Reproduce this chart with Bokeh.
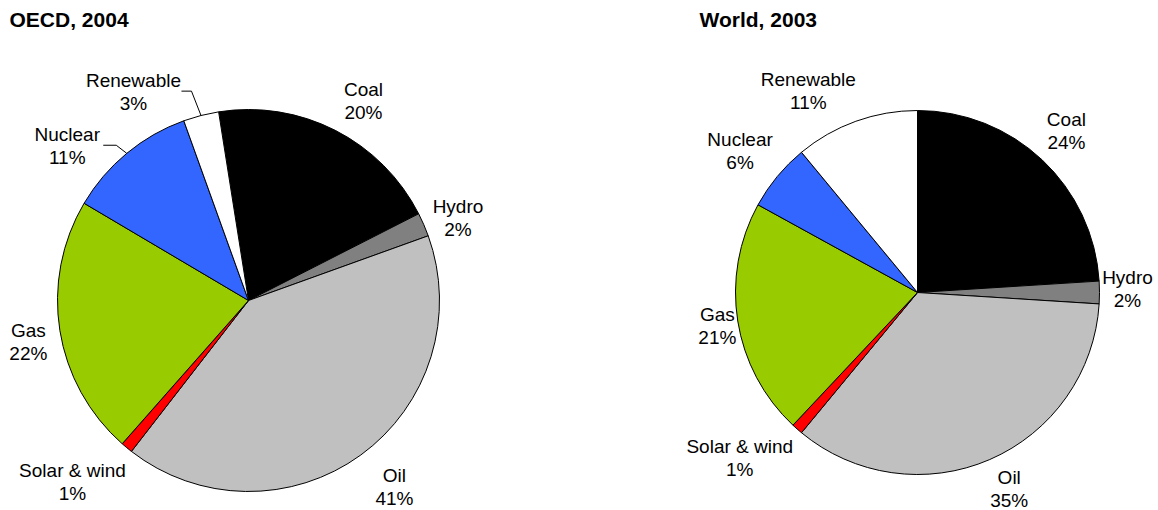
import math
from bokeh.plotting import figure
from bokeh.models import Range1d, ColumnDataSource
from bokeh.embed import file_html
from bokeh.resources import INLINE
from bokeh.core.properties import value

# ---- data ----
categories = ["Coal", "Hydro", "Oil", "Solar & wind", "Gas", "Nuclear", "Renewable"]
oecd_2004 = [20, 2, 41, 1, 22, 11, 3]
world_2003 = [24, 2, 35, 1, 21, 6, 11]
titles = ["OECD, 2004", "World, 2003"]

# ---- style ----
colors = ["#000000", "#808080", "#C0C0C0", "#FF0000", "#99CC00", "#3366FF", "#FFFFFF"]
FONT = "Liberation Sans"

W, H = 1158, 510
p = figure(width=W, height=H, x_range=Range1d(0, W), y_range=Range1d(0, H),
           output_backend="svg", toolbar_location=None,
           x_axis_type=None, y_axis_type=None, min_border=0)
p.outline_line_color = None
p.grid.visible = False


def img(x, y):
    # page-pixel coordinates -> data coordinates (1 unit == 1 px, y up)
    return x, H - y


layouts = [
    dict(center=img(248, 300), r=191, start=-9, title_pos=img(9, 19),
         dr=[39, 34, 46, 62, 33, 47, 47], dth=[3, 2, -2, 4.5, -1.6, -10, -14.5],
         leaders={5: (36, 49), 6: (48, 58)}),
    dict(center=img(917, 292), r=182, start=0, title_pos=img(699, 19),
         dr=[38, 28, 35, 61, 21, 45, 47.5], dth=[-0.6, -1, -1.6, 5.6, -0.6, -1, -8.6],
         leaders={}),
]

for vals, title, lay in zip([oecd_2004, world_2003], titles, layouts):
    cx, cy = lay["center"]
    r = lay["r"]
    starts, ends, mids = [], [], []
    cum = lay["start"]
    for v in vals:
        a0 = cum
        a1 = cum + v * 3.6
        starts.append(math.radians(90 - a0))
        ends.append(math.radians(90 - a1))
        mids.append((a0 + a1) / 2)
        cum = a1
    src = ColumnDataSource(dict(x=[cx] * len(vals), y=[cy] * len(vals),
                                start=starts, end=ends, color=colors,
                                cat=categories, val=vals))
    p.wedge(x="x", y="y", radius=r, start_angle="start", end_angle="end",
            direction="clock", fill_color="color", line_color="black",
            line_width=1, source=src)

    lx, ly_name, ly_pct, names, pcts = [], [], [], [], []
    for i, (cat, v) in enumerate(zip(categories, vals)):
        ang = math.radians(mids[i] + lay["dth"][i])
        d = r + lay["dr"][i]
        x = cx + d * math.sin(ang)
        y = cy + d * math.cos(ang)
        lx.append(x)
        ly_name.append(y + 11.5)
        ly_pct.append(y - 11.5)
        names.append(cat)
        pcts.append(f"{v}%")
        if i in lay["leaders"]:
            o1, o2 = lay["leaders"][i]
            ma = math.radians(mids[i])
            ex = cx + r * math.sin(ma)
            ey = cy + r * math.cos(ma)
            p.line(x=[x + o1, x + o2, ex], y=[y + 1, y + 1, ey],
                   line_color="black", line_width=1)
    tsrc = ColumnDataSource(dict(x=lx, yn=ly_name, yp=ly_pct, n=names, pc=pcts))
    for ycol, tcol in (("yn", "n"), ("yp", "pc")):
        p.text(x="x", y=ycol, text=tcol, source=tsrc,
               text_font=value(FONT), text_font_size="19px", text_color="black",
               text_align="center", text_baseline="middle")

    tx, ty = lay["title_pos"]
    p.text(x=[tx], y=[ty], text=[title], text_font=value(FONT),
           text_font_style="bold", text_font_size="21px", text_color="black",
           text_align="left", text_baseline="middle")

open("out.html", "w").write(file_html(p, INLINE))
